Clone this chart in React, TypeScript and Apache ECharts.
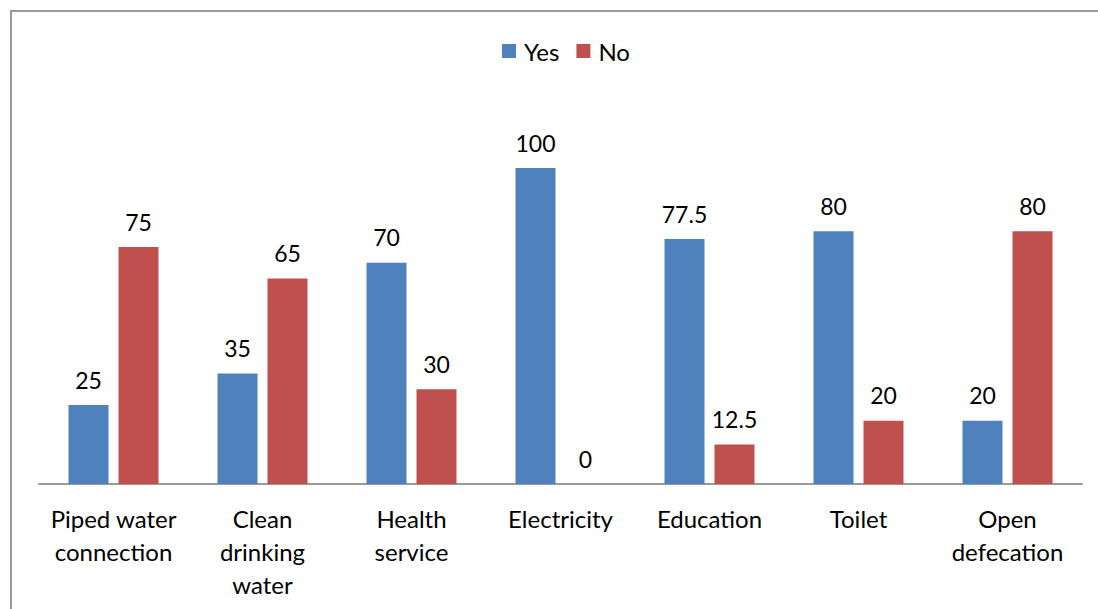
import React, { useEffect, useRef } from "react";
import * as echarts from "echarts";

const categories = [
  "Piped water\nconnection",
  "Clean\ndrinking\nwater",
  "Health\nservice",
  "Electricity",
  "Education",
  "Toilet",
  "Open\ndefecation",
];
const yesValues = [25, 35, 70, 100, 77.5, 80, 20];
const noValues = [75, 65, 30, 0, 12.5, 20, 80];

const FONT = "Lato, 'Open Sans', sans-serif";

export default function App() {
  const ref = useRef<HTMLDivElement>(null);
  useEffect(() => {
    document.body.style.margin = "0";
    if (!ref.current) return;
    const chart = echarts.init(ref.current, undefined, { renderer: "svg" });
    const label = {
      show: true,
      position: "top" as const,
      distance: 14,
      color: "#000",
      fontSize: 23,
      fontFamily: FONT,
    };
    chart.setOption({
      animation: false,
      backgroundColor: "#fff",
      textStyle: { fontFamily: FONT },
      graphic: [
        {
          type: "rect",
          shape: { x: 11, y: 11, width: 1200, height: 800 },
          style: { fill: "none", stroke: "#999", lineWidth: 2 },
          silent: true,
        },
      ],
      legend: {
        data: ["Yes", "No"],
        top: 34,
        left: 497,
        itemWidth: 14,
        itemHeight: 14,
        itemGap: 17,
        icon: "rect",
        textStyle: {
          fontSize: 24,
          color: "#000",
          fontFamily: FONT,
          padding: [0, 0, 0, 3],
        },
      },
      grid: { left: 39, right: 16, top: 168, bottom: 125, containLabel: false },
      xAxis: {
        type: "category",
        data: categories,
        axisLine: { show: true, lineStyle: { color: "#999", width: 2 } },
        axisTick: { show: false },
        axisLabel: {
          interval: 0,
          color: "#000",
          fontSize: 24,
          lineHeight: 33,
          margin: 18,
          fontFamily: FONT,
        },
      },
      yAxis: {
        type: "value",
        min: 0,
        max: 100,
        show: false,
        splitLine: { show: false },
      },
      series: [
        {
          name: "Yes",
          type: "bar",
          data: yesValues,
          barWidth: 40,
          barGap: "25%",
          itemStyle: { color: "#4F81BD" },
          label,
        },
        {
          name: "No",
          type: "bar",
          data: noValues,
          barWidth: 40,
          itemStyle: { color: "#C0504D" },
          label,
        },
      ],
    });
    return () => chart.dispose();
  }, []);
  return <div ref={ref} style={{ width: 1098, height: 609 }} />;
}
